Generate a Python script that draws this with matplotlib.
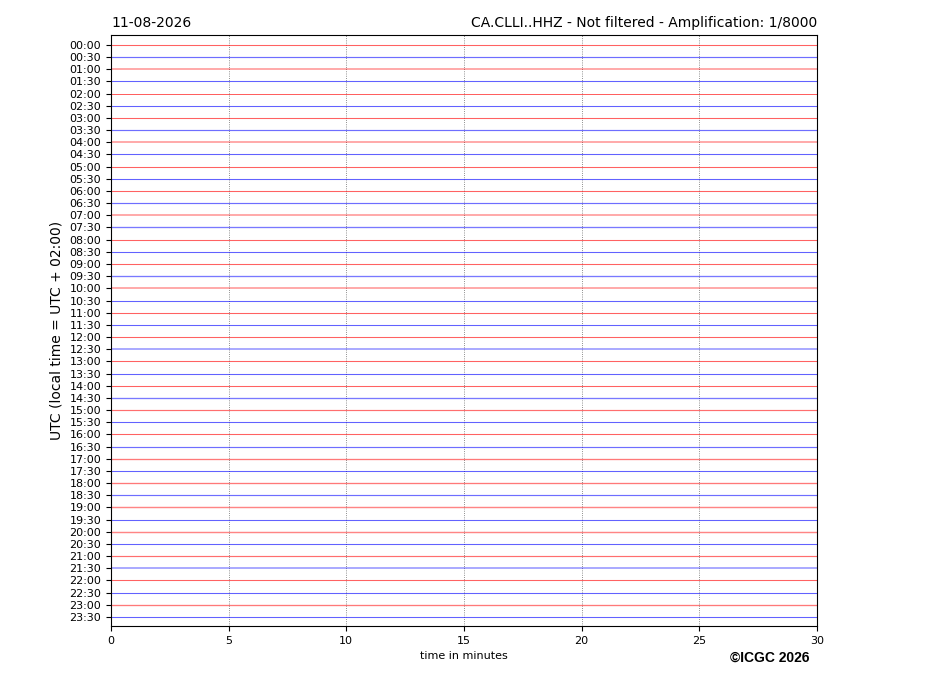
import matplotlib
matplotlib.use('Agg')
import matplotlib.pyplot as plt

# Helicorder: 48 half-hour traces of 30 minutes each
date_label = '11-08-2026'
station_title = 'CA.CLLI..HHZ - Not filtered - Amplification: 1/8000'
trace_labels = ['%02d:%02d' % (h, m) for h in range(24) for m in (0, 30)]
minutes = [0, 30]
# signal level per trace (0 = quiet, 1 = noisier); traces are essentially flat
noise_level = [0.3, 0.4, 0.8, 0.3, 0.2, 0.3, 0.3, 0.4, 0.8, 0.3, 0.3, 0.3,
               0.3, 0.4, 0.8, 0.5, 0.3, 0.3, 0.3, 0.5, 0.8, 0.3, 0.3, 0.3,
               0.3, 0.8, 0.3, 0.3, 0.3, 0.5, 0.4, 0.3, 0.3, 0.4, 0.5, 0.3,
               0.5, 0.4, 0.6, 0.3, 0.6, 0.3, 0.4, 0.8, 0.3, 0.3, 0.5, 0.3]
trace_colors = ['red', 'blue']

fig = plt.figure(figsize=(9.27, 6.96), dpi=100)
ax = fig.add_axes([0.1197, 0.1006, 0.7616, 0.8491])

for i, label in enumerate(trace_labels):
    lvl = noise_level[i]
    ax.plot(minutes, [-i, -i], color=trace_colors[i % 2],
            lw=0.5 + 0.9 * lvl, alpha=0.75 - 0.45 * lvl)

ax.set_xlim(0, 30)
ax.set_ylim(-47.75, 0.82)
ax.set_xticks([0, 5, 10, 15, 20, 25, 30])
ax.set_yticks([-i for i in range(len(trace_labels))])
ax.set_yticklabels(trace_labels)
ax.tick_params(axis='both', labelsize=8)
ax.grid(axis='x', color='dimgray', linestyle=':', linewidth=0.6)

ax.set_xlabel('time in minutes', fontsize=8)
ax.set_ylabel('UTC (local time = UTC + 02:00)', fontsize=10)
ax.set_title(date_label, loc='left', fontsize=10)
ax.set_title(station_title, loc='right', fontsize=10)

fig.text(0.8306, 0.0546, '\u00a9ICGC 2026', ha='center', va='center',
         fontsize=10, fontweight='bold', family='Liberation Sans')

fig.savefig('out.png', dpi=100)
